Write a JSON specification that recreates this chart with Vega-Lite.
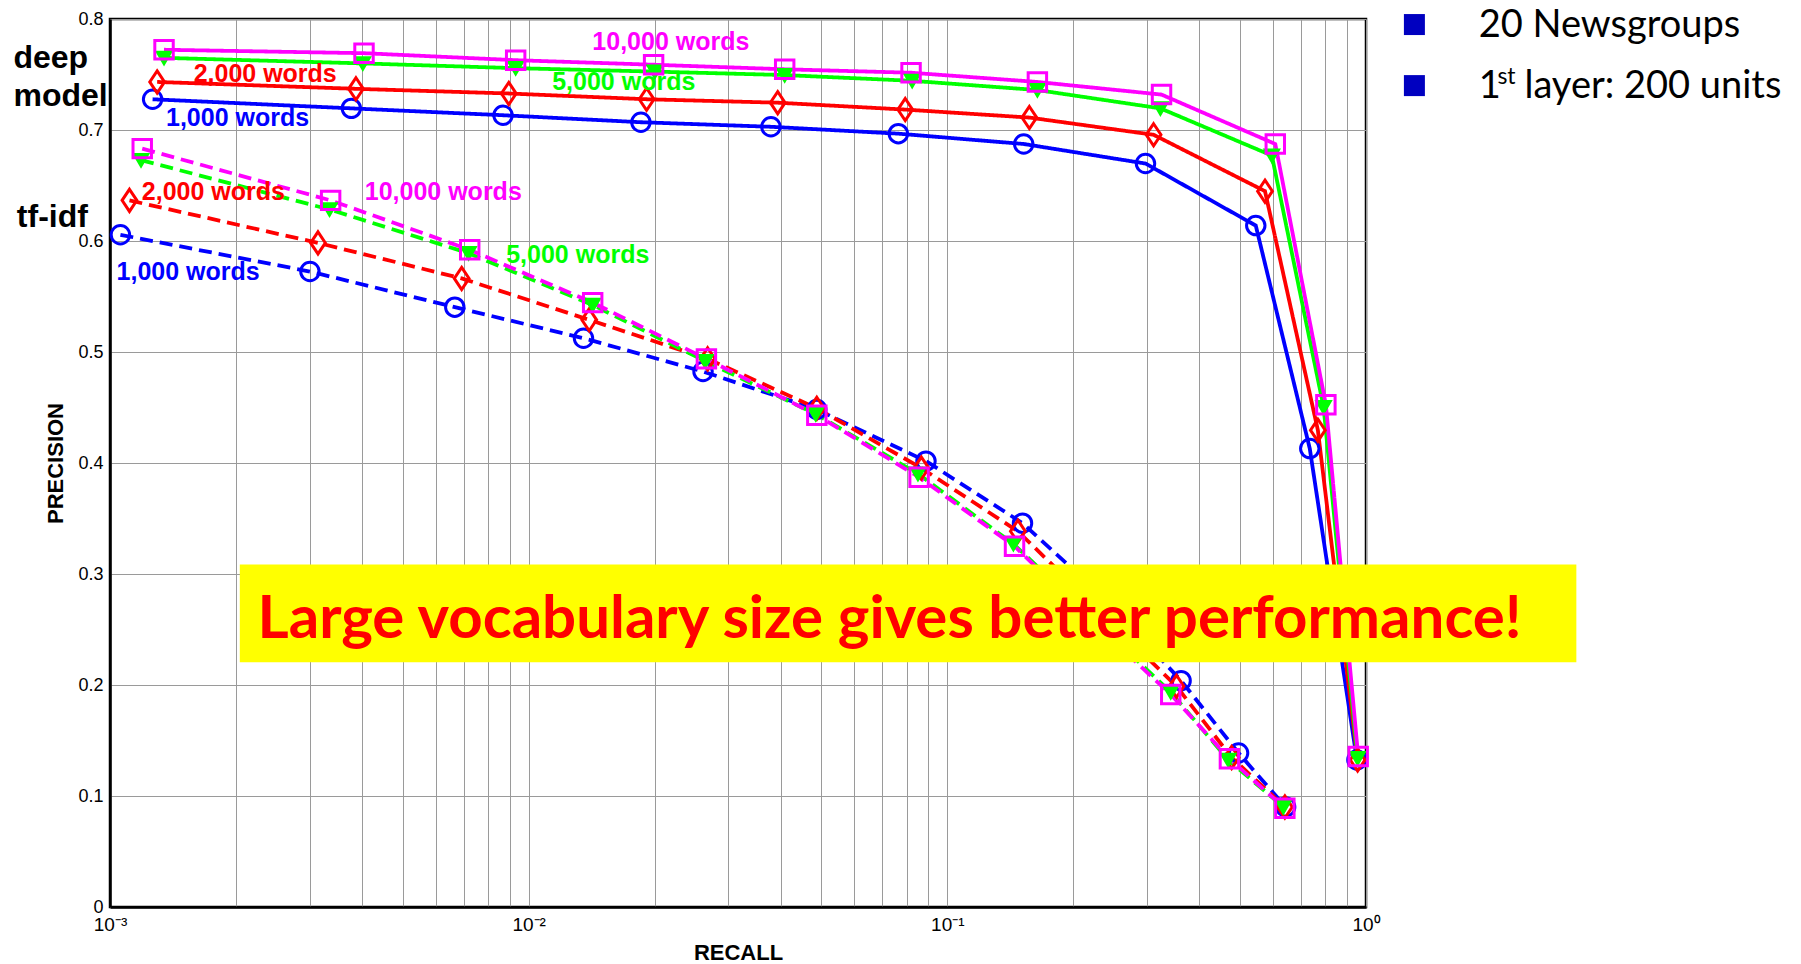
{
  "$schema": "https://vega.github.io/schema/vega-lite/v6.json",
  "width": 1256,
  "height": 888,
  "autosize": {"type": "none"},
  "padding": {"left": 110, "top": 19, "right": 435, "bottom": 57},
  "background": "white",
  "config": {
    "view": {"stroke": "black", "strokeWidth": 2.5},
    "font": "Liberation Sans"
  },
  "datasets": {
    "curves": [
      {"model": "deep model", "vocab": "1,000 words", "recall": 0.001264, "precision": 0.7277},
      {"model": "deep model", "vocab": "1,000 words", "recall": 0.003771, "precision": 0.7195},
      {"model": "deep model", "vocab": "1,000 words", "recall": 0.008685, "precision": 0.7133},
      {"model": "deep model", "vocab": "1,000 words", "recall": 0.01854, "precision": 0.7070},
      {"model": "deep model", "vocab": "1,000 words", "recall": 0.0379, "precision": 0.7029},
      {"model": "deep model", "vocab": "1,000 words", "recall": 0.07638, "precision": 0.6967},
      {"model": "deep model", "vocab": "1,000 words", "recall": 0.1522, "precision": 0.6874},
      {"model": "deep model", "vocab": "1,000 words", "recall": 0.2974, "precision": 0.6698},
      {"model": "deep model", "vocab": "1,000 words", "recall": 0.5454, "precision": 0.6139},
      {"model": "deep model", "vocab": "1,000 words", "recall": 0.734, "precision": 0.413},
      {"model": "deep model", "vocab": "1,000 words", "recall": 0.9513, "precision": 0.1325},
      {"model": "tf-idf", "vocab": "1,000 words", "recall": 0.001059, "precision": 0.6056},
      {"model": "tf-idf", "vocab": "1,000 words", "recall": 0.003003, "precision": 0.5725},
      {"model": "tf-idf", "vocab": "1,000 words", "recall": 0.006661, "precision": 0.5404},
      {"model": "tf-idf", "vocab": "1,000 words", "recall": 0.01352, "precision": 0.5124},
      {"model": "tf-idf", "vocab": "1,000 words", "recall": 0.02609, "precision": 0.4824},
      {"model": "tf-idf", "vocab": "1,000 words", "recall": 0.04878, "precision": 0.4482},
      {"model": "tf-idf", "vocab": "1,000 words", "recall": 0.08892, "precision": 0.4017},
      {"model": "tf-idf", "vocab": "1,000 words", "recall": 0.1512, "precision": 0.3458},
      {"model": "tf-idf", "vocab": "1,000 words", "recall": 0.2353, "precision": 0.2795},
      {"model": "tf-idf", "vocab": "1,000 words", "recall": 0.3617, "precision": 0.2039},
      {"model": "tf-idf", "vocab": "1,000 words", "recall": 0.4962, "precision": 0.1387},
      {"model": "tf-idf", "vocab": "1,000 words", "recall": 0.6428, "precision": 0.0901},
      {"model": "deep model", "vocab": "2,000 words", "recall": 0.001296, "precision": 0.7433},
      {"model": "deep model", "vocab": "2,000 words", "recall": 0.003868, "precision": 0.7371},
      {"model": "deep model", "vocab": "2,000 words", "recall": 0.008965, "precision": 0.7329},
      {"model": "deep model", "vocab": "2,000 words", "recall": 0.01913, "precision": 0.7277},
      {"model": "deep model", "vocab": "2,000 words", "recall": 0.03934, "precision": 0.7246},
      {"model": "deep model", "vocab": "2,000 words", "recall": 0.07933, "precision": 0.7184},
      {"model": "deep model", "vocab": "2,000 words", "recall": 0.157, "precision": 0.7112},
      {"model": "deep model", "vocab": "2,000 words", "recall": 0.3109, "precision": 0.6957},
      {"model": "deep model", "vocab": "2,000 words", "recall": 0.5738, "precision": 0.6449},
      {"model": "deep model", "vocab": "2,000 words", "recall": 0.7674, "precision": 0.4296},
      {"model": "deep model", "vocab": "2,000 words", "recall": 0.955, "precision": 0.1325},
      {"model": "tf-idf", "vocab": "2,000 words", "recall": 0.001113, "precision": 0.6366},
      {"model": "tf-idf", "vocab": "2,000 words", "recall": 0.003139, "precision": 0.5983},
      {"model": "tf-idf", "vocab": "2,000 words", "recall": 0.006918, "precision": 0.5663},
      {"model": "tf-idf", "vocab": "2,000 words", "recall": 0.01395, "precision": 0.529},
      {"model": "tf-idf", "vocab": "2,000 words", "recall": 0.02676, "precision": 0.4938},
      {"model": "tf-idf", "vocab": "2,000 words", "recall": 0.04878, "precision": 0.4493},
      {"model": "tf-idf", "vocab": "2,000 words", "recall": 0.0867, "precision": 0.3954},
      {"model": "tf-idf", "vocab": "2,000 words", "recall": 0.1474, "precision": 0.3385},
      {"model": "tf-idf", "vocab": "2,000 words", "recall": 0.228, "precision": 0.269},
      {"model": "tf-idf", "vocab": "2,000 words", "recall": 0.3527, "precision": 0.1988},
      {"model": "tf-idf", "vocab": "2,000 words", "recall": 0.4776, "precision": 0.1346},
      {"model": "tf-idf", "vocab": "2,000 words", "recall": 0.64, "precision": 0.0901},
      {"model": "deep model", "vocab": "5,000 words", "recall": 0.001346, "precision": 0.765},
      {"model": "deep model", "vocab": "5,000 words", "recall": 0.004017, "precision": 0.760},
      {"model": "deep model", "vocab": "5,000 words", "recall": 0.00931, "precision": 0.7557},
      {"model": "deep model", "vocab": "5,000 words", "recall": 0.02001, "precision": 0.7526},
      {"model": "deep model", "vocab": "5,000 words", "recall": 0.04088, "precision": 0.7495},
      {"model": "deep model", "vocab": "5,000 words", "recall": 0.08241, "precision": 0.7443},
      {"model": "deep model", "vocab": "5,000 words", "recall": 0.1641, "precision": 0.736},
      {"model": "deep model", "vocab": "5,000 words", "recall": 0.3228, "precision": 0.7195},
      {"model": "deep model", "vocab": "5,000 words", "recall": 0.5958, "precision": 0.677},
      {"model": "deep model", "vocab": "5,000 words", "recall": 0.792, "precision": 0.4503},
      {"model": "deep model", "vocab": "5,000 words", "recall": 0.955, "precision": 0.134},
      {"model": "tf-idf", "vocab": "5,000 words", "recall": 0.001186, "precision": 0.6729},
      {"model": "tf-idf", "vocab": "5,000 words", "recall": 0.003344, "precision": 0.6284},
      {"model": "tf-idf", "vocab": "5,000 words", "recall": 0.007185, "precision": 0.589},
      {"model": "tf-idf", "vocab": "5,000 words", "recall": 0.01422, "precision": 0.5424},
      {"model": "tf-idf", "vocab": "5,000 words", "recall": 0.02642, "precision": 0.4917},
      {"model": "tf-idf", "vocab": "5,000 words", "recall": 0.04847, "precision": 0.4441},
      {"model": "tf-idf", "vocab": "5,000 words", "recall": 0.08508, "precision": 0.3903},
      {"model": "tf-idf", "vocab": "5,000 words", "recall": 0.1438, "precision": 0.3271},
      {"model": "tf-idf", "vocab": "5,000 words", "recall": 0.2209, "precision": 0.2609},
      {"model": "tf-idf", "vocab": "5,000 words", "recall": 0.3417, "precision": 0.1936},
      {"model": "tf-idf", "vocab": "5,000 words", "recall": 0.4687, "precision": 0.1325},
      {"model": "tf-idf", "vocab": "5,000 words", "recall": 0.6347, "precision": 0.0901},
      {"model": "deep model", "vocab": "10,000 words", "recall": 0.001346, "precision": 0.7723},
      {"model": "deep model", "vocab": "10,000 words", "recall": 0.004043, "precision": 0.7692},
      {"model": "deep model", "vocab": "10,000 words", "recall": 0.00931, "precision": 0.7629},
      {"model": "deep model", "vocab": "10,000 words", "recall": 0.01988, "precision": 0.7588},
      {"model": "deep model", "vocab": "10,000 words", "recall": 0.04088, "precision": 0.7547},
      {"model": "deep model", "vocab": "10,000 words", "recall": 0.08191, "precision": 0.7516},
      {"model": "deep model", "vocab": "10,000 words", "recall": 0.1641, "precision": 0.7433},
      {"model": "deep model", "vocab": "10,000 words", "recall": 0.3248, "precision": 0.7319},
      {"model": "deep model", "vocab": "10,000 words", "recall": 0.6072, "precision": 0.6874},
      {"model": "deep model", "vocab": "10,000 words", "recall": 0.802, "precision": 0.4524},
      {"model": "deep model", "vocab": "10,000 words", "recall": 0.958, "precision": 0.1356},
      {"model": "tf-idf", "vocab": "10,000 words", "recall": 0.001194, "precision": 0.6832},
      {"model": "tf-idf", "vocab": "10,000 words", "recall": 0.003365, "precision": 0.6366},
      {"model": "tf-idf", "vocab": "10,000 words", "recall": 0.007231, "precision": 0.5921},
      {"model": "tf-idf", "vocab": "10,000 words", "recall": 0.01422, "precision": 0.5445},
      {"model": "tf-idf", "vocab": "10,000 words", "recall": 0.02658, "precision": 0.4938},
      {"model": "tf-idf", "vocab": "10,000 words", "recall": 0.04878, "precision": 0.4431},
      {"model": "tf-idf", "vocab": "10,000 words", "recall": 0.08561, "precision": 0.3872},
      {"model": "tf-idf", "vocab": "10,000 words", "recall": 0.1447, "precision": 0.325},
      {"model": "tf-idf", "vocab": "10,000 words", "recall": 0.2209, "precision": 0.258},
      {"model": "tf-idf", "vocab": "10,000 words", "recall": 0.3417, "precision": 0.1915},
      {"model": "tf-idf", "vocab": "10,000 words", "recall": 0.4718, "precision": 0.1335},
      {"model": "tf-idf", "vocab": "10,000 words", "recall": 0.64, "precision": 0.089}
    ],
    "labels": [
      {"text": "10,000 words", "vocab": "10,000 words", "recall": 0.02186, "precision": 0.7795},
      {"text": "5,000 words", "vocab": "5,000 words", "recall": 0.01687, "precision": 0.7433},
      {"text": "2,000 words", "vocab": "2,000 words", "recall": 0.002348, "precision": 0.7505},
      {"text": "1,000 words", "vocab": "1,000 words", "recall": 0.002017, "precision": 0.7112},
      {"text": "10,000 words", "vocab": "10,000 words", "recall": 0.006252, "precision": 0.6439},
      {"text": "5,000 words", "vocab": "5,000 words", "recall": 0.0131, "precision": 0.587},
      {"text": "2,000 words", "vocab": "2,000 words", "recall": 0.001766, "precision": 0.6439},
      {"text": "1,000 words", "vocab": "1,000 words", "recall": 0.001537, "precision": 0.5725}
    ],
    "sections": [
      {"text": "deep", "recall": 0.000588, "precision": 0.7557},
      {"text": "model", "recall": 0.000588, "precision": 0.7215},
      {"text": "tf-idf", "recall": 0.000599, "precision": 0.6128}
    ],
    "box": [
      {"recall": 0.002042, "recall2": 3.18, "precision": 0.3085, "precision2": 0.2205}
    ],
    "message": [
      {"text": "Large vocabulary size gives better performance!", "recall": 0.0728, "precision": 0.2422}
    ],
    "keys": [
      {"recall": 1.305, "precision": 0.795},
      {"recall": 1.305, "precision": 0.740}
    ],
    "keytext": [
      {"text": "20 Newsgroups", "recall": 1.859, "precision": 0.7835},
      {"text": "1", "recall": 1.859, "precision": 0.7292},
      {"text": "st", "recall": 2.06, "precision": 0.7412},
      {"text": "layer: 200 units", "recall": 2.39, "precision": 0.7292}
    ]
  },
  "encoding": {
    "x": {
      "field": "recall",
      "type": "quantitative",
      "scale": {"type": "log", "domain": [0.001, 1], "nice": false},
      "axis": {
        "title": "RECALL",
        "titleFont": "Liberation Sans",
        "titleFontWeight": "bold",
        "titleFontSize": 22,
        "titleColor": "black",
        "titlePadding": 8,
        "values": [0.001, 0.002, 0.003, 0.004, 0.005, 0.006, 0.007, 0.008, 0.009, 0.01, 0.02, 0.03, 0.04, 0.05, 0.06, 0.07, 0.08, 0.09, 0.1, 0.2, 0.3, 0.4, 0.5, 0.6, 0.7, 0.8, 0.9, 1],
        "labelExpr": "datum.value == 0.001 ? '10⁻³' : datum.value == 0.01 ? '10⁻²' : datum.value == 0.1 ? '10⁻¹' : datum.value == 1 ? '10⁰' : ''",
        "labelOverlap": false,
        "labelFlush": false,
        "labelFont": "Liberation Sans",
        "labelFontSize": 19,
        "labelColor": "black",
        "labelPadding": 8,
        "ticks": false,
        "grid": true,
        "gridColor": "#9a9a9a",
        "gridWidth": 1,
        "domainColor": "black",
        "domainWidth": 2.5
      }
    },
    "y": {
      "field": "precision",
      "type": "quantitative",
      "scale": {"domain": [0, 0.8], "nice": false, "zero": false},
      "axis": {
        "title": "PRECISION",
        "titleFont": "Liberation Sans",
        "titleFontWeight": "bold",
        "titleFontSize": 22,
        "titleColor": "black",
        "titlePadding": 10,
        "values": [0, 0.1, 0.2, 0.3, 0.4, 0.5, 0.6, 0.7, 0.8],
        "format": "~g",
        "labelFont": "Liberation Sans",
        "labelFontSize": 18,
        "labelColor": "black",
        "labelPadding": 7,
        "ticks": false,
        "grid": true,
        "gridColor": "#9a9a9a",
        "gridWidth": 1,
        "domainColor": "black",
        "domainWidth": 2.5
      }
    }
  },
  "layer": [
    {
      "data": {"name": "curves"},
      "mark": {"type": "line", "strokeWidth": 3.8},
      "encoding": {
        "color": {
          "field": "vocab",
          "type": "nominal",
          "scale": {"domain": ["1,000 words", "2,000 words", "5,000 words", "10,000 words"], "range": ["#0000FF", "#FF0000", "#00FF00", "#FF00FF"]},
          "legend": null
        },
        "strokeDash": {
          "field": "model",
          "type": "nominal",
          "scale": {"domain": ["deep model", "tf-idf"], "range": [[1, 0], [13, 7]]},
          "legend": null
        }
      }
    },
    {
      "data": {"name": "curves"},
      "mark": {"type": "point", "filled": false, "strokeWidth": 3, "opacity": 1},
      "encoding": {
        "color": {"field": "vocab", "type": "nominal", "legend": null},
        "shape": {
          "field": "vocab",
          "type": "nominal",
          "scale": {"domain": ["1,000 words", "2,000 words", "5,000 words", "10,000 words"], "range": ["circle", "M0,-1.2L0.8,0L0,1.2L-0.8,0Z", "triangle-down", "square"]},
          "legend": null
        },
        "fill": {
          "condition": {"test": "datum.vocab === '5,000 words'", "value": "#00FF00"},
          "value": "transparent"
        },
        "size": {
          "condition": {"test": "datum.vocab === '5,000 words'", "value": 170},
          "value": 340
        }
      }
    },
    {
      "data": {"name": "box"},
      "mark": {"type": "rect", "color": "#FFFF00"},
      "encoding": {
        "x2": {"field": "recall2"},
        "y2": {"field": "precision2"}
      }
    },
    {
      "data": {"name": "message"},
      "mark": {"type": "text", "font": "Lato", "fontWeight": "bold", "fontSize": 60, "color": "#FF0000", "align": "center", "baseline": "alphabetic"},
      "encoding": {"text": {"field": "text"}}
    },
    {
      "data": {"name": "labels"},
      "mark": {"type": "text", "font": "Liberation Sans", "fontWeight": "bold", "fontSize": 25, "align": "center", "baseline": "middle"},
      "encoding": {
        "text": {"field": "text"},
        "color": {"field": "vocab", "type": "nominal", "legend": null}
      }
    },
    {
      "data": {"name": "sections"},
      "mark": {"type": "text", "font": "Liberation Sans", "fontWeight": "bold", "fontSize": 32, "align": "left", "baseline": "alphabetic", "color": "black"},
      "encoding": {"text": {"field": "text"}}
    },
    {
      "data": {"name": "keys"},
      "mark": {"type": "point", "shape": "square", "filled": true, "size": 441, "color": "#0000C0", "opacity": 1},
      "encoding": {}
    },
    {
      "data": {"name": "keytext"},
      "mark": {"type": "text", "font": "Lato", "align": "left", "baseline": "alphabetic", "color": "black"},
      "encoding": {
        "text": {"field": "text"},
        "size": {
          "condition": {"test": "datum.text === 'st'", "value": 23},
          "value": 38
        }
      }
    }
  ]
}
